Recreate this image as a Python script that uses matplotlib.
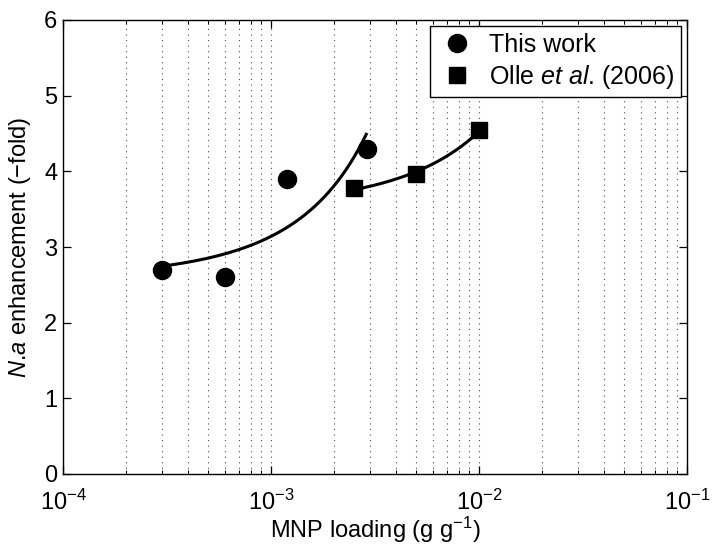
import numpy as np
import matplotlib
matplotlib.use("Agg")
import matplotlib.pyplot as plt
from matplotlib.ticker import LogLocator

plt.rcParams['font.family'] = ['Liberation Sans', 'DejaVu Sans']
plt.rcParams['mathtext.fontset'] = 'custom'
plt.rcParams['mathtext.rm'] = 'Liberation Sans'
plt.rcParams['mathtext.it'] = 'Liberation Sans:italic'
plt.rcParams['mathtext.default'] = 'regular'

# Data
this_x = [3e-4, 6e-4, 1.2e-3, 2.9e-3]
this_y = [2.70, 2.60, 3.90, 4.30]
olle_x = [2.5e-3, 5e-3, 1e-2]
olle_y = [3.78, 3.96, 4.54]
fit1_range = [3e-4, 2.87e-3]
fit2_range = [2.5e-3, 1e-2]

fig = plt.figure(figsize=(7.13, 5.56), dpi=100)
ax = fig.add_axes([63/713, (556-474)/556, (687-63)/713, (474-20)/556])

# exponential fits
def expfit(x, y, rng):
    b, a = np.polyfit(np.array(x), np.log(np.array(y)), 1)
    xs = np.linspace(rng[0], rng[1], 200)
    return xs, np.exp(a + b * xs)

xs1, ys1 = expfit(this_x, this_y, fit1_range)
xs2, ys2 = expfit(olle_x, olle_y, fit2_range)
ax.plot(xs1, ys1, color='black', lw=2.2, zorder=3)
ax.plot(xs2, ys2, color='black', lw=2.2, zorder=3)

ax.plot(this_x, this_y, 'o', color='black', ms=13, ls='none', label='This work', zorder=4)
ax.plot(olle_x, olle_y, 's', color='black', ms=11, ls='none',
        label='Olle $\\mathit{et\\ al}$. (2006)', zorder=4)

ax.set_xscale('log')
ax.set_xlim(1e-4, 1e-1)
ax.set_ylim(0, 6)
ax.set_yticks([0, 1, 2, 3, 4, 5, 6])
ax.xaxis.set_major_locator(LogLocator(base=10, numticks=10))
ax.xaxis.set_minor_locator(LogLocator(base=10, subs=np.arange(2, 10), numticks=10))

ax.grid(True, axis='x', which='both', linestyle=(0, (1, 4)), color='black', lw=0.8, alpha=0.7)

ax.tick_params(axis='both', which='major', direction='in', length=6, width=0.9,
               labelsize=17, top=True, right=True, pad=4)
ax.tick_params(axis='x', which='major', pad=11)
ax.tick_params(axis='x', which='minor', direction='in', length=3, width=0.7, top=True)
for s in ax.spines.values():
    s.set_linewidth(1.0)

ax.set_xlabel('MNP loading (g g$^{-1}$)', fontsize=17, labelpad=0)
ax.set_ylabel('$\\mathit{N}$.$\\mathit{a}$ enhancement (\u2212fold)', fontsize=17, labelpad=8)

leg = ax.legend(loc='upper right', fontsize=18, frameon=True, fancybox=False,
                edgecolor='black', framealpha=1, borderpad=0.25, handletextpad=0.5,
                handlelength=1.6, labelspacing=0.25, borderaxespad=0.25, numpoints=1)
leg.get_frame().set_linewidth(1.0)

fig.savefig('out.png', dpi=100)
